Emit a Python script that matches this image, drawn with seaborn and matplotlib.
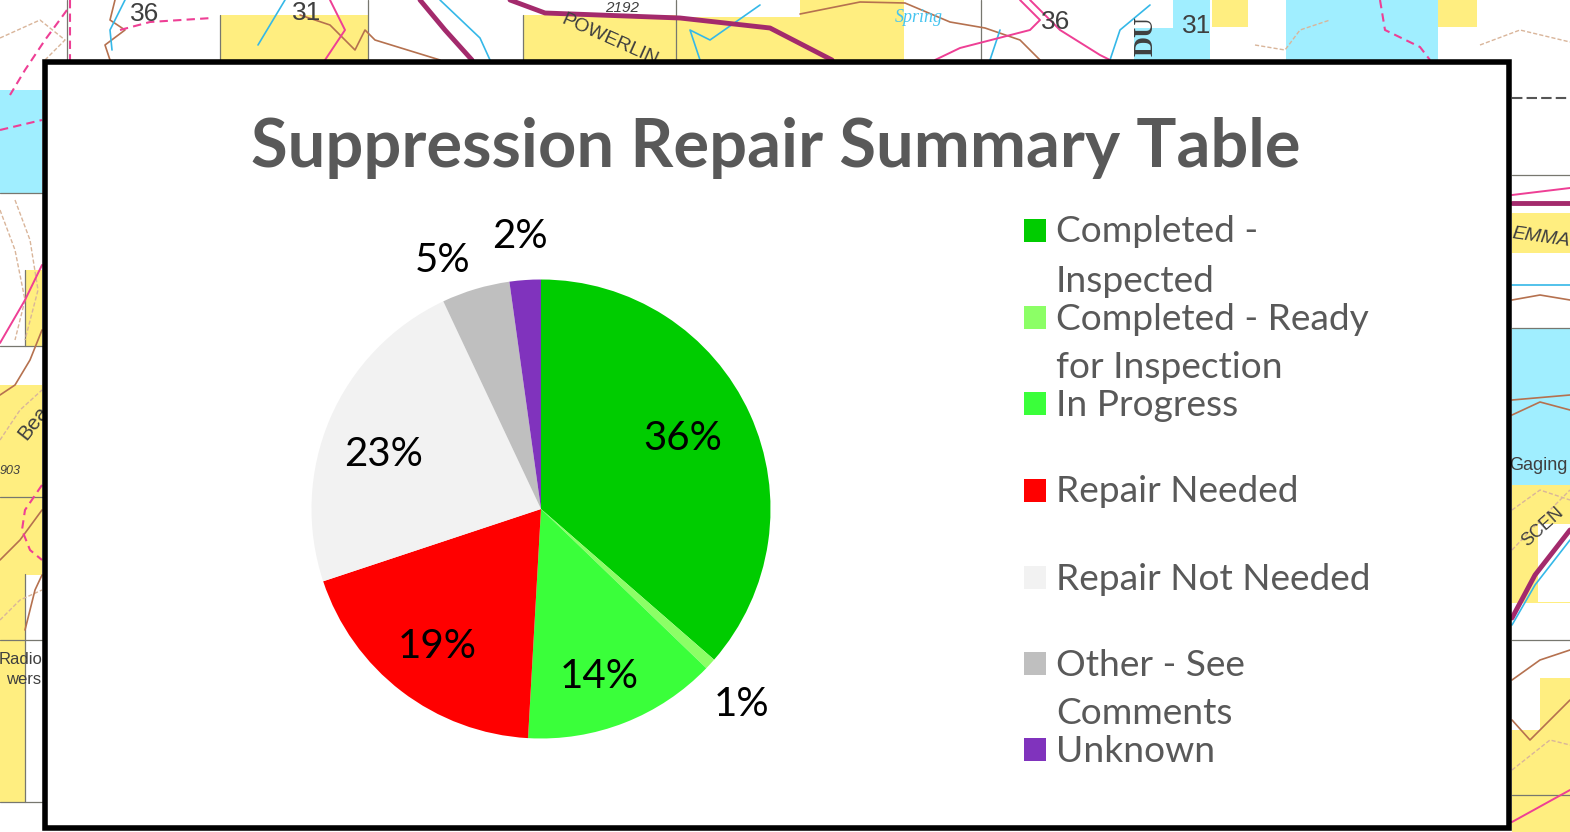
import matplotlib
matplotlib.use('Agg')
import matplotlib.pyplot as plt
from matplotlib.patches import Rectangle
import seaborn as sns

# chart values
categories = ['Completed -\nInspected', 'Completed - Ready\nfor Inspection', 'In Progress',
              'Repair Needed', 'Repair Not Needed', 'Other - See\nComments', 'Unknown']
shares = [36.4, 0.8, 13.7, 19.0, 23.1, 4.8, 2.2]
slice_colors = ['#00CC00', '#8CFF66', '#3AFF3A', '#FF0000', '#F2F2F2', '#BFBFBF', '#8033BD']
title_text = 'Suppression Repair Summary Table'

# where the percent labels sit, in pixels of the picture
label_px = [(683, 438), (742, 704), (599, 677), (437, 647), (384, 455), (443, 261), (520, 236)]

# map behind the panel, pixels of the picture
YELLOW = '#FFEE80'
CYAN = '#A0EEFF'
PINK = '#EE3F95'
BROWN = '#B5714F'
TAN = '#D9B59A'
ROAD = '#A32A6C'
BLUE = '#35B8E8'
yellow_blocks = [(220, 15, 148, 45), (523, 15, 153, 45), (676, 17, 124, 43), (800, 0, 104, 60),
                 (1212, 0, 36, 27), (1438, 0, 39, 27), (25, 270, 17, 76), (0, 385, 42, 190), (0, 574, 25, 228),
                 (1512, 213, 58, 40), (1512, 485, 58, 118), (1512, 678, 58, 154)]
cyan_blocks = [(1134, 0, 76, 60), (1286, 0, 152, 60), (0, 90, 42, 103), (1512, 328, 58, 157)]
white_blocks = [(1134, 0, 39, 28), (1538, 524, 32, 78), (1512, 678, 28, 52)]
grid_lines = [([67, 67], [0, 60]), ([220, 220], [15, 60]), ([368, 368], [0, 60]), ([523, 523], [15, 60]),
              ([676, 676], [0, 60]), ([981, 981], [0, 60]), ([0, 42], [193, 193]), ([0, 42], [346, 346]),
              ([0, 42], [497, 497]), ([0, 42], [640, 640]), ([0, 42], [802, 802]), ([25, 25], [270, 346]),
              ([25, 25], [574, 802]), ([1512, 1570], [175, 175]), ([1512, 1570], [328, 328]),
              ([1512, 1570], [640, 640]), ([1512, 1570], [795, 795])]
road_lines = [([420, 445, 472], [0, 30, 60]), ([510, 545, 680, 770, 832], [0, 13, 18, 28, 60]),
              ([1512, 1570], [203, 203]), ([1512, 1535, 1570], [618, 575, 530])]
pink_lines = [([330, 345, 335, 325], [0, 30, 45, 60]),
              ([1020, 1040, 1030, 960, 935], [0, 20, 30, 48, 60]), ([1030, 1060, 1100, 1110], [0, 30, 55, 60]),
              ([1512, 1570], [195, 188]), ([0, 25, 42], [343, 300, 265]), ([1512, 1570], [822, 790])]
dash_lines = [([70, 70], [0, 60]), ([67, 45, 25, 10], [10, 40, 70, 95]), ([120, 150, 212], [30, 22, 18]),
              ([0, 42], [130, 120]), ([1380, 1385, 1420, 1430], [0, 30, 47, 60]),
              ([42, 25, 22, 30, 42], [485, 510, 530, 550, 560])]
blue_lines = [([125, 110, 112], [0, 30, 50]), ([285, 258], [0, 45]), ([440, 480, 490], [0, 38, 60]),
              ([1150, 1120, 1110], [5, 30, 60]), ([1000, 990], [30, 60]), ([700, 690, 710, 760], [60, 30, 40, 5]),
              ([1512, 1535, 1570], [625, 585, 540]), ([1512, 1570], [285, 285])]
brown_lines = [([115, 110, 125, 105, 110], [0, 20, 30, 45, 60]), ([300, 330, 355, 365, 375, 440], [15, 25, 50, 30, 40, 60]),
               ([800, 860, 905, 950, 985, 1020, 1040], [14, 2, 3, 22, 28, 40, 60]),
               ([0, 15, 30, 42], [395, 385, 360, 330]), ([0, 20, 42], [560, 540, 510]), ([25, 35, 42], [630, 590, 575]),
               ([1512, 1540, 1570], [300, 295, 300]), ([1512, 1570], [400, 395]), ([1512, 1540, 1570], [415, 402, 410]),
               ([1512, 1540, 1570], [680, 660, 650]), ([1512, 1530, 1570], [720, 740, 700])]
tan_lines = [([0, 40, 65, 45], [38, 20, 40, 60]), ([1255, 1285, 1300, 1330], [45, 50, 30, 20]),
             ([1480, 1520, 1570], [45, 30, 42]), ([0, 15, 25, 15], [210, 250, 300, 340]),
             ([15, 30, 38, 25], [200, 240, 290, 340]), ([0, 20, 42], [440, 410, 390]), ([0, 20, 42], [620, 600, 590]),
             ([1512, 1540, 1570], [510, 490, 500]), ([1512, 1550, 1570], [550, 510, 490]),
             ([1512, 1550, 1570], [770, 740, 745])]
map_labels = [('36', 145, 14, 0, 19, 'normal'), ('31', 307, 13, 0, 19, 'normal'), ('2192', 622, 8, 0, 11, 'italic'),
              ('POWERLIN', 610, 40, -24, 14, 'normal'), ('36', 1056, 22, 0, 19, 'normal'), ('31', 1197, 26, 0, 19, 'normal'),
              ('EMMA', 1541, 238, -8, 14, 'italic'), ('Gaging', 1538, 465, 0, 13, 'normal'), ('SCEN', 1543, 527, 42, 13, 'normal'),
              ('Bea', 33, 423, 52, 15, 'normal'), ('Radio', 21, 660, 0, 12, 'normal'), ('wers', 24, 679, 0, 12, 'normal'),
              ('903', 10, 471, 0, 9, 'italic')]

W, H = 1570, 832
sns.set_theme(style='white')
plt.rcParams['font.family'] = ['Lato', 'DejaVu Sans']
palette = sns.color_palette(slice_colors)

fig = plt.figure(figsize=(W / 100, H / 100), dpi=100, facecolor='white')

# full figure layer in picture pixels, y downwards
bg = fig.add_axes([0, 0, 1, 1])
bg.set_xlim(0, W)
bg.set_ylim(H, 0)
bg.axis('off')

for x, y, w, h in yellow_blocks:
    bg.add_patch(Rectangle((x, y), w, h, color=YELLOW, lw=0))
for x, y, w, h in cyan_blocks:
    bg.add_patch(Rectangle((x, y), w, h, color=CYAN, lw=0))
for x, y, w, h in white_blocks:
    bg.add_patch(Rectangle((x, y), w, h, color='white', lw=0))
for xs, ys in grid_lines:
    bg.plot(xs, ys, color='#77776F', lw=0.9)
for xs, ys in tan_lines:
    bg.plot(xs, ys, color=TAN, lw=1, ls=(0, (3, 1.5)))
for xs, ys in brown_lines:
    bg.plot(xs, ys, color=BROWN, lw=1.2)
for xs, ys in blue_lines:
    bg.plot(xs, ys, color=BLUE, lw=1.2)
for xs, ys in pink_lines:
    bg.plot(xs, ys, color=PINK, lw=1.4)
for xs, ys in dash_lines:
    bg.plot(xs, ys, color=PINK, lw=1.5, ls=(0, (4, 2.5)))
for xs, ys in road_lines:
    bg.plot(xs, ys, color=ROAD, lw=3.5)
bg.plot([1512, 1570], [98, 98], color='#555555', lw=1.5, ls=(0, (5, 2)))
for txt, x, y, rot, size, style in map_labels:
    bg.text(x, y, txt, rotation=rot, fontsize=size, style=style, color='#3F3F3F', ha='center', va='center',
            family='Liberation Sans', clip_on=True)
bg.text(919, 18, 'Spring', fontsize=13, style='italic', color='#45C4F0', ha='center', va='center', family='Liberation Serif')
bg.text(1146, 36, 'DU', rotation=90, fontsize=20, color='#3F3F3F', ha='center', va='center', family='Liberation Serif', weight='bold')

# white panel with the black frame
bg.add_patch(Rectangle((44.75, 61.5), 1464, 766, facecolor='white', edgecolor='black', lw=4, zorder=5))
bg.text(776, 148, title_text, fontsize=48.2, weight='bold', color='#595959', ha='center', va='center', zorder=6)

# legend
legend_y = [230, 317, 403, 490, 577, 663, 749]
for name, color, y in zip(categories, palette, legend_y):
    bg.add_patch(Rectangle((1024, y - 11.5), 22, 23, color=color, lw=0, zorder=6))
    for i, line in enumerate(name.split('\n')):
        bg.text(1056, y + 2 + 49 * i, line, fontsize=26.7, color='#595959', ha='left', va='center', zorder=6)

# the pie
cx, cy, r = 541, 509, 229.5
ax = fig.add_axes([(cx - r) / W, 1 - (cy + r) / H, 2 * r / W, 2 * r / H], zorder=3)
ax.patch.set_alpha(0)
wedges, _, pct_texts = ax.pie(shares, colors=palette, startangle=90, counterclock=False, radius=1,
                              autopct='%.0f%%', wedgeprops={'linewidth': 0})
ax.set_xlim(-1, 1)
ax.set_ylim(-1, 1)
for t, (px, py) in zip(pct_texts, label_px):
    t.set_position(((px - cx) / r, (cy - py) / r))
    t.set_fontsize(29)
    t.set_color('black')
    t.set_ha('center')
    t.set_va('center')

fig.savefig('out.png', dpi=100)
